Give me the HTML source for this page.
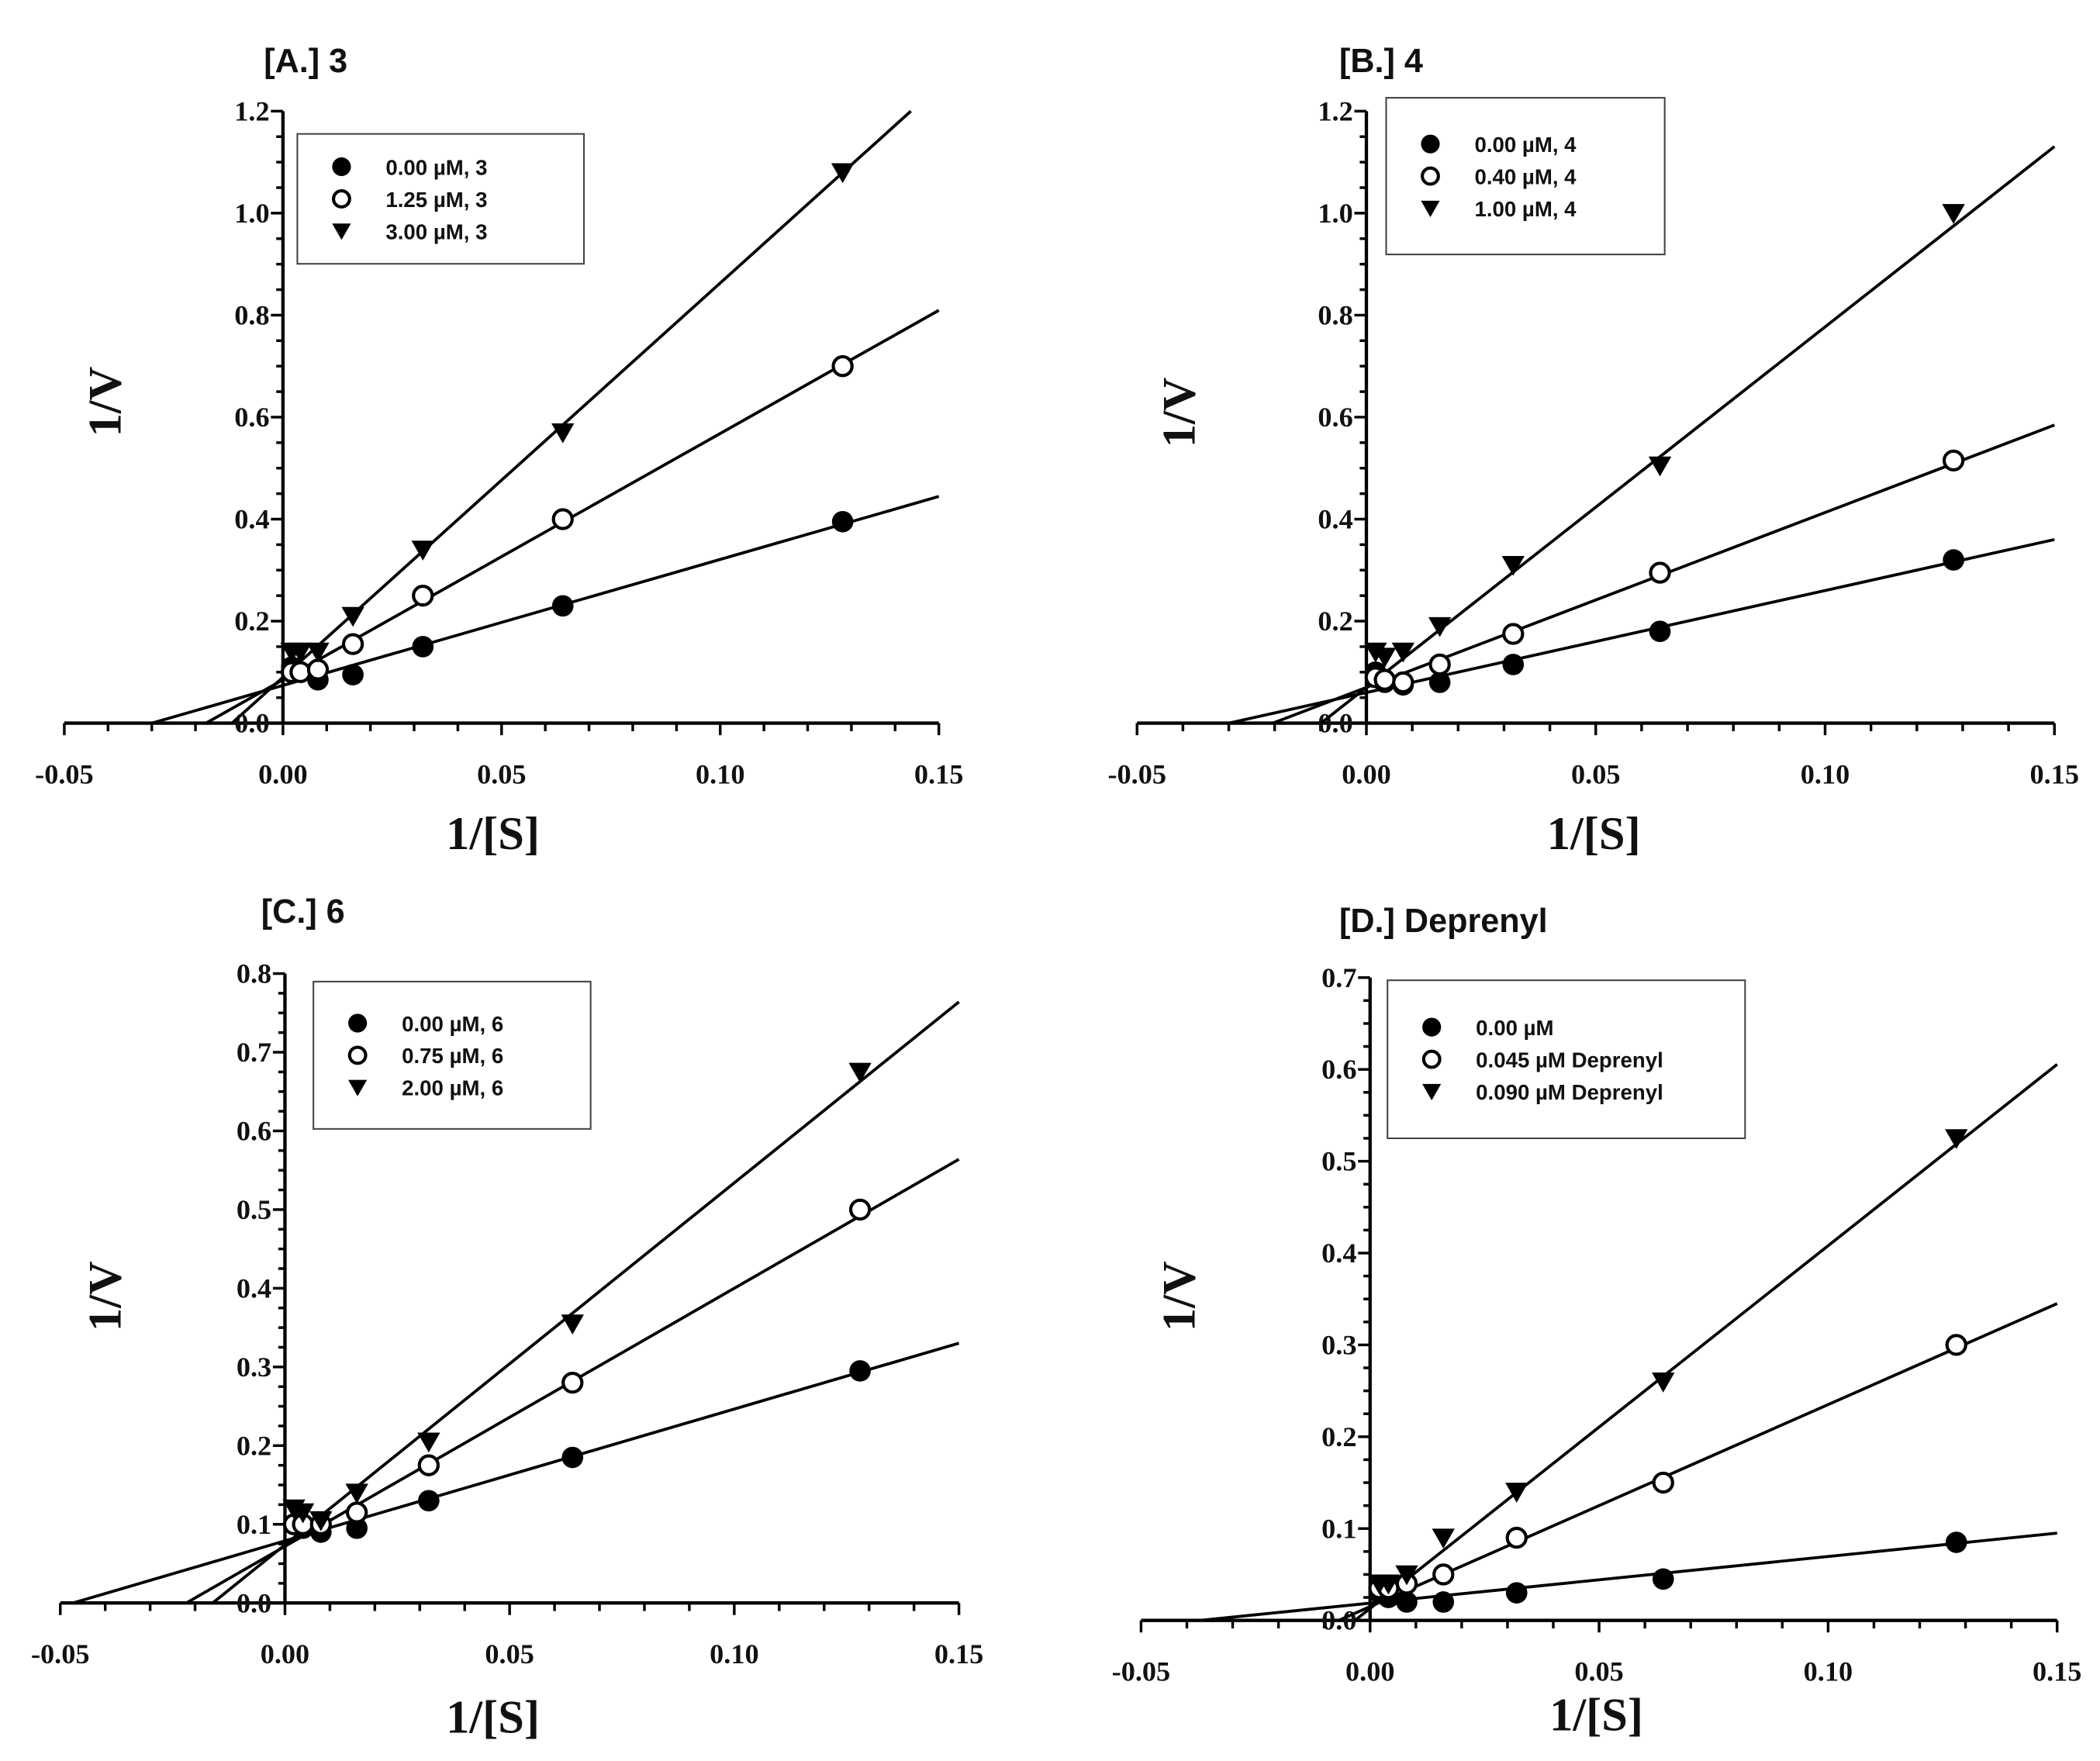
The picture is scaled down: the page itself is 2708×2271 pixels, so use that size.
<!DOCTYPE html>
<html><head><meta charset="utf-8"><style>
html,body{margin:0;padding:0;background:#fff}
svg{display:block}
.tk{font-family:"Liberation Serif",serif;font-weight:bold;font-size:21px;fill:#111}
.at{font-family:"Liberation Serif",serif;font-weight:bold;font-size:35px;fill:#111}
.tt{font-family:"Liberation Sans",sans-serif;font-weight:bold;font-size:25px;fill:#111}
.lg{font-family:"Liberation Sans",sans-serif;font-weight:bold;font-size:16px;fill:#111}
</style></head><body>
<svg id="fig" width="2708" height="2271" viewBox="0 0 1568 1315" xmlns="http://www.w3.org/2000/svg"></svg>
<script>
const xValues=[0.002,0.004,0.008,0.016,0.032,0.064,0.128];
const xTicks=[-0.05,0.00,0.05,0.10,0.15];
const xTickLabels=["-0.05","0.00","0.05","0.10","0.15"];
const titles=["[A.] 3","[B.] 4","[C.] 6","[D.] Deprenyl"];
const legendA=["0.00 µM, 3","1.25 µM, 3","3.00 µM, 3"];
const legendB=["0.00 µM, 4","0.40 µM, 4","1.00 µM, 4"];
const legendC=["0.00 µM, 6","0.75 µM, 6","2.00 µM, 6"];
const legendD=["0.00 µM","0.045 µM Deprenyl","0.090 µM Deprenyl"];
const yMaxes=[1.2,1.2,0.8,0.7];
const yMajorSteps=[0.2,0.2,0.1,0.1];
const aFilled=[0.11,0.10,0.085,0.095,0.15,0.23,0.395];
const aOpen=[0.10,0.10,0.105,0.155,0.25,0.40,0.70];
const aTri=[0.14,0.14,0.14,0.21,0.34,0.57,1.08];
const bFilled=[0.10,0.08,0.075,0.08,0.115,0.18,0.32];
const bOpen=[0.09,0.085,0.08,0.115,0.175,0.295,0.515];
const bTri=[0.14,0.13,0.14,0.19,0.31,0.505,1.0];
const cFilled=[0.10,0.095,0.09,0.095,0.13,0.185,0.295];
const cOpen=[0.10,0.10,0.10,0.115,0.175,0.28,0.50];
const cTri=[0.12,0.115,0.105,0.14,0.205,0.355,0.675];
const dFilled=[0.03,0.025,0.02,0.02,0.03,0.045,0.085];
const dOpen=[0.035,0.035,0.04,0.05,0.09,0.15,0.30];
const dTri=[0.04,0.04,0.05,0.09,0.14,0.26,0.525];
// fit lines: [slope, intercept]
const aFits=[[2.47,0.074],[4.83,0.085],[7.73,0.09]];
const bFits=[[2.0,0.06],[3.43,0.07],[7.07,0.07]];
const cFits=[[1.675,0.079],[3.28,0.072],[4.6,0.074]];
const dFits=[[0.508,0.0188],[2.2,0.015],[3.95,0.013]];

const panels=[
 {x0:48,x1:701,y0:540,y1:83,tx:197,ty:54,ylx:90,yly:300,xlx:368,xly:634,lg:[222,100,214,97],leg:legendA,series:[aFilled,aOpen,aTri],fits:aFits},
 {x0:849,x1:1534,y0:540,y1:83,tx:1000,ty:54,ylx:892,yly:308,xlx:1190,xly:634,lg:[1035,73,208,117],leg:legendB,series:[bFilled,bOpen,bTri],fits:bFits},
 {x0:45,x1:716,y0:1197,y1:727,tx:195,ty:689,ylx:90,yly:968,xlx:368,xly:1294,lg:[234,733,207,110],leg:legendC,series:[cFilled,cOpen,cTri],fits:cFits},
 {x0:852,x1:1536,y0:1210,y1:730,tx:1000,ty:696,ylx:892,yly:968,xlx:1192,xly:1292,lg:[1036,732,267,118],leg:legendD,series:[dFilled,dOpen,dTri],fits:dFits}
];
const NS="http://www.w3.org/2000/svg";
const svg=document.getElementById('fig');
function mk(tag,attrs,parent,text){const e=document.createElementNS(NS,tag);for(const k in attrs)e.setAttribute(k,attrs[k]);if(text!==undefined)e.textContent=text;(parent||svg).appendChild(e);return e;}
function marker(g,kind,cx,cy,r){
 if(kind===0)return mk('circle',{cx:cx,cy:cy,r:r,fill:'#000'},g);
 if(kind===1)return mk('circle',{cx:cx,cy:cy,r:r-1,fill:'#fff',stroke:'#000','stroke-width':2.4},g);
 return mk('polygon',{points:`${cx-r},${cy-r*0.8} ${cx+r},${cy-r*0.8} ${cx},${cy+r*0.95}`,fill:'#000'},g);
}
panels.forEach((p,i)=>{
 const g=mk('g',{});
 
 
 const ymax=yMaxes[i];
 const sx=v=>p.x0+(v+0.05)/0.2*(p.x1-p.x0);
 const sy=v=>p.y0-v/ymax*(p.y0-p.y1);
 const ax=sx(0);
 const t=mk('text',{x:p.tx,y:p.ty,class:'tt'},g,titles[i]);
 
 
 const xa=mk('line',{x1:p.x0,y1:p.y0,x2:p.x1,y2:p.y0,stroke:'#000','stroke-width':2.5},g);
 
 
 const ya=mk('line',{x1:ax,y1:p.y0,x2:ax,y2:p.y1,stroke:'#000','stroke-width':2.5},g);
 
 
 for(let k=0;k<=20;k++){const v=-0.05+k*0.01;const X=sx(v);const major=k%5===0;
  mk('line',{x1:X,y1:p.y0,x2:X,y2:p.y0+(major?9:6),stroke:'#000','stroke-width':2},g);}
 xTicks.forEach((v,k)=>{const tl=mk('text',{x:sx(v),y:p.y0+45,class:'tk','text-anchor':'middle'},g,xTickLabels[k]);
  
  });
 const step=yMajorSteps[i];const minor=step/4;
 const nmin=Math.round(ymax/minor);
 for(let k=0;k<=nmin;k++){const v=k*minor;const Y=sy(v);const major=k%4===0;
  mk('line',{x1:ax,y1:Y,x2:ax-(major?9:5),y2:Y,stroke:'#000','stroke-width':2},g);
  if(major){const tl=mk('text',{x:ax-10,y:Y+7,class:'tk','text-anchor':'end'},g,v.toFixed(1));
   
   }}
 const yl=mk('text',{x:p.ylx,y:p.yly,class:'at','text-anchor':'middle',transform:`rotate(-90 ${p.ylx} ${p.yly})`},g,'1/V');
 
 
 const xl=mk('text',{x:p.xlx,y:p.xly,class:'at','text-anchor':'middle'},g,'1/[S]');
 
 
 p.fits.forEach((f,s)=>{
  const xs=-f[1]/f[0];let xe=0.15;let ye=f[0]*xe+f[1];
  if(ye>ymax){xe=(ymax-f[1])/f[0];ye=ymax;}
  const ln=mk('line',{x1:sx(xs),y1:sy(0),x2:sx(xe),y2:sy(ye),stroke:'#000','stroke-width':2.2},g);
  
  
 });
 p.series.forEach((arr,s)=>{arr.forEach((v,k)=>{
  const m=marker(g,s,sx(xValues[k]),sy(v),s===2?8.5:8);
  
  
 });});
 const [lx,ly,lw,lh]=p.lg;
 const lgG=mk('g',{},g);
 
 
 mk('rect',{x:lx,y:ly,width:lw,height:lh,fill:'#fff',stroke:'#444','stroke-width':1.2},lgG);
 const top=ly+(lh-48)/2;
 p.leg.forEach((txt,s)=>{
  const yy=top+s*24;
  const e=mk('g',{},lgG);
  
  
  marker(e,s,lx+33,yy,7);
  mk('text',{x:lx+66,y:yy+6,class:'lg'},e,txt);
 });
});
</script>
</body></html>
